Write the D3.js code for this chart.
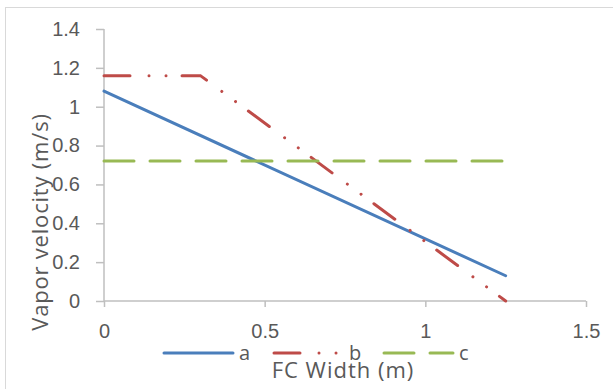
<!DOCTYPE html>
<html>
<head>
<meta charset="utf-8">
<script src="https://cdn.jsdelivr.net/npm/d3@7"></script>
<style>
  body { margin: 0; background: #fff; }
  svg { display: block; font-family: "Open Sans", sans-serif; }
</style>
</head>
<body>
<div id="chart"></div>
<script>
// data
const widthA = [0, 1.25];
const velA = [1.08, 0.13];
const widthB = [0, 0.3, 1.25];
const velB = [1.16, 1.16, 0];
const widthC = [0, 1.25];
const velC = [0.72, 0.72];
const xTicks = [0, 0.5, 1, 1.5];
const yTicks = [0, 0.2, 0.4, 0.6, 0.8, 1, 1.2, 1.4];

const W = 613, H = 389;
const margin = { top: 29, right: 27, bottom: 88, left: 104 };
const width = W - margin.left - margin.right,
      height = H - margin.top - margin.bottom;

const svg = d3.select("#chart").append("svg")
    .attr("width", W).attr("height", H);

// chart area border
svg.append("rect")
    .attr("x", 5.5).attr("y", 7.5)
    .attr("width", 700).attr("height", 500)
    .attr("fill", "none").attr("stroke", "#d9d9d9");

const g = svg.append("g").attr("transform", `translate(${margin.left},${margin.top})`);

const x = d3.scaleLinear().domain([0, 1.5]).range([0, width]);
const y = d3.scaleLinear().domain([0, 1.4]).range([height, 0]);

// axes
const xAxis = g.append("g")
    .attr("transform", `translate(0,${height})`)
    .call(d3.axisBottom(x).tickValues(xTicks).tickSize(6).tickPadding(17).tickFormat(d3.format("")));
const yAxis = g.append("g")
    .call(d3.axisLeft(y).tickValues(yTicks).tickSize(8).tickPadding(16).tickFormat(d3.format("")));
[xAxis, yAxis].forEach(a => {
    a.select(".domain").attr("stroke", "#bfbfbf").attr("stroke-width", 1.5);
    a.selectAll(".tick line").attr("stroke", "#bfbfbf").attr("stroke-width", 1.5);
    a.selectAll(".tick text").attr("fill", "#595959").style("font-size", "20px");
});
xAxis.select(".domain").attr("d", `M0,0H${width}`);
yAxis.select(".domain").attr("d", `M0,${height}V0`);

const series = [
    { name: "a", xs: widthA, ys: velA, color: "#4a7ebb", dash: null },
    { name: "b", xs: widthB, ys: velB, color: "#be4b48", dash: "26 19 0.01 17 0.01 16" },
    { name: "c", xs: widthC, ys: velC, color: "#98b954", dash: "30 16" }
];

const line = d3.line().x(d => x(d[0])).y(d => y(d[1]));

series.forEach(s => {
    g.append("path")
        .datum(s.xs.map((v, i) => [v, s.ys[i]]))
        .attr("fill", "none")
        .attr("stroke", s.color)
        .attr("stroke-width", 3)
        .attr("stroke-linecap", "round")
        .attr("stroke-dasharray", s.dash)
        .attr("d", line);
});

// axis titles
svg.append("text")
    .attr("x", 343).attr("y", 378)
    .attr("text-anchor", "middle")
    .attr("fill", "#595959").style("font-size", "22px").style("letter-spacing", "1px")
    .text("FC Width (m)");
svg.append("text")
    .attr("transform", "translate(48,222) rotate(-90)")
    .attr("text-anchor", "middle")
    .attr("fill", "#595959").style("font-size", "22px").style("letter-spacing", "0.8px")
    .text("Vapor velocity (m/s)");

// legend
const legend = svg.append("g").attr("transform", "translate(164,353)");
series.forEach((s, i) => {
    const lg = legend.append("g").attr("transform", `translate(${i * 110},0)`);
    lg.append("line")
        .attr("x1", 0).attr("x2", 69)
        .attr("stroke", s.color).attr("stroke-width", 3)
        .attr("stroke-linecap", "round")
        .attr("stroke-dasharray", s.dash);
    lg.append("text")
        .attr("x", 75).attr("y", 7)
        .attr("fill", "#595959").style("font-size", "20px")
        .text(s.name);
});
</script>
</body>
</html>
